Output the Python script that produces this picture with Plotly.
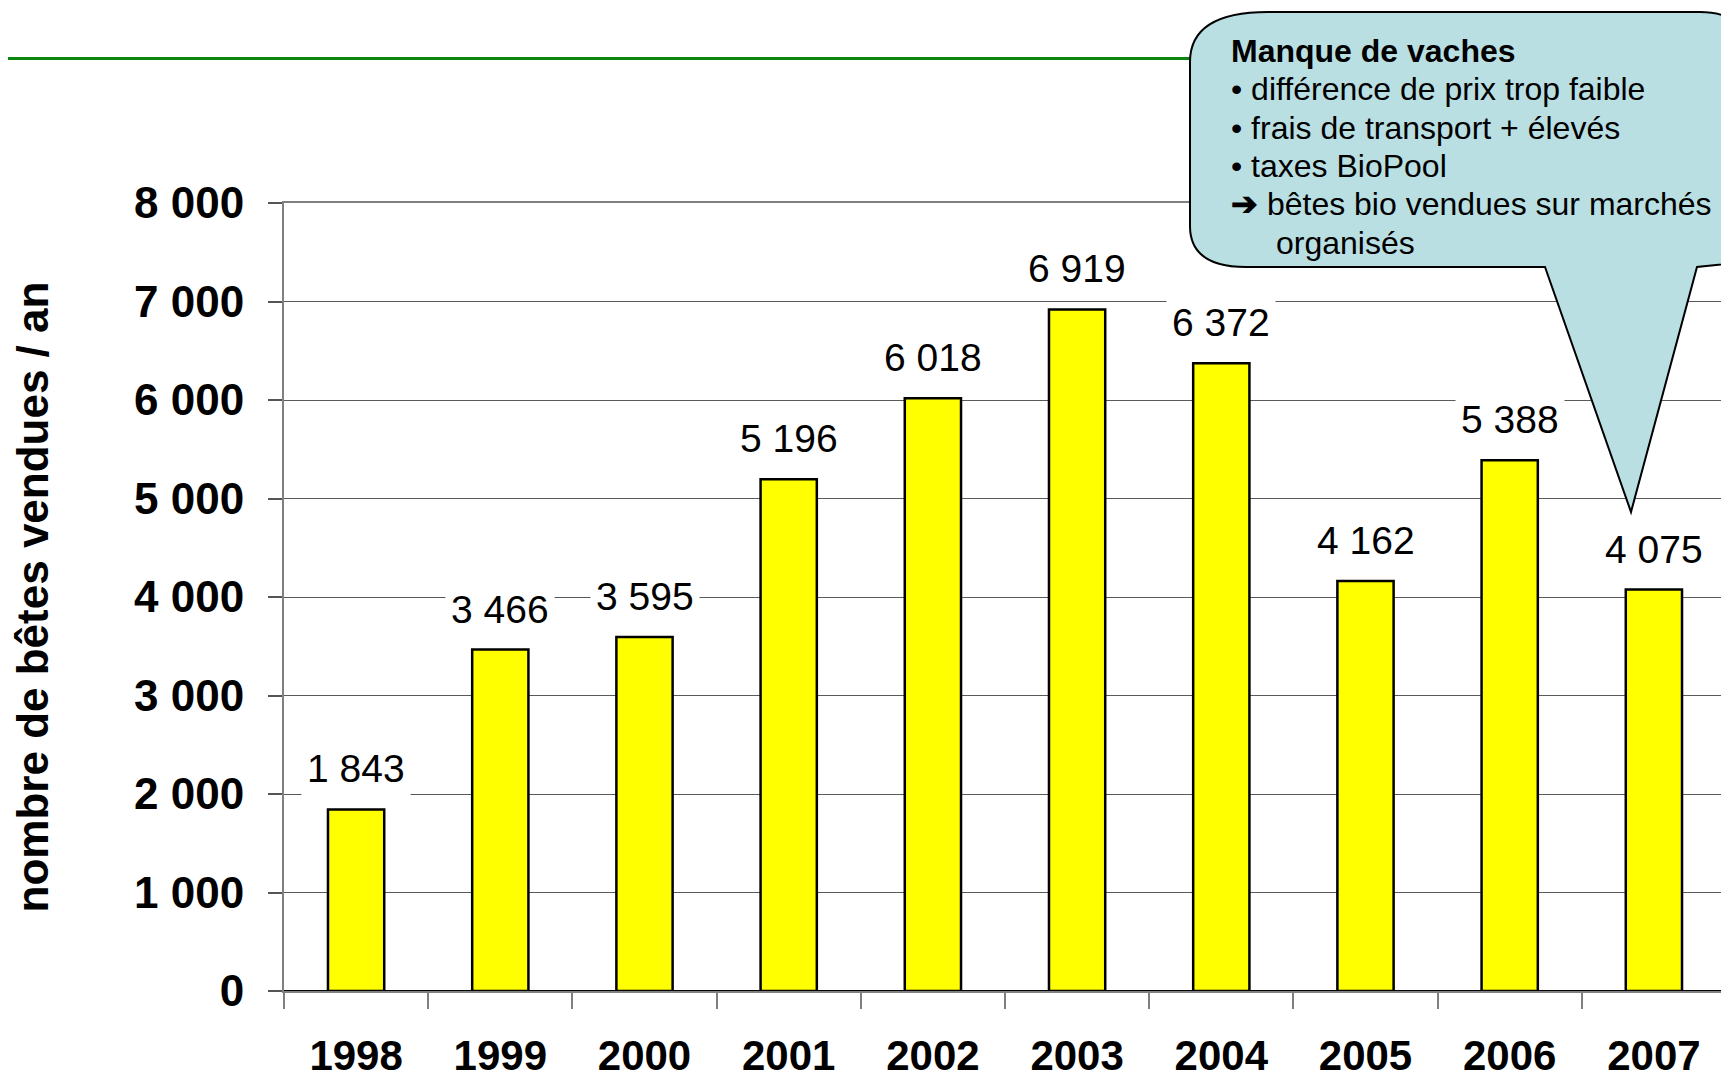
import plotly.graph_objects as go

years = ["1998", "1999", "2000", "2001", "2002", "2003", "2004", "2005", "2006", "2007"]
sold = [1843, 3466, 3595, 5196, 6018, 6919, 6372, 4162, 5388, 4075]
y_ticks = [0, 1000, 2000, 3000, 4000, 5000, 6000, 7000, 8000]
callout_title = "Manque de vaches"
callout_lines = [
    "• différence de prix trop faible",
    "• frais de transport + élevés",
    "• taxes BioPool",
    "<b>➔</b> bêtes bio vendues sur marchés",
    "organisés",
]
y_title = "nombre de bêtes vendues / an"

FONT = "Liberation Sans, Arial, sans-serif"
OFF = 8  # default page body margin
W, H = 1729 - OFF, 1080 - OFF
# plot area in page pixels
PL, PR, PT, PB = 284, 1726, 203, 991
L, R, T, B = PL - OFF, W - (PR - OFF), PT - OFF, H - (PB - OFF)
PW, PH = PR - PL, PB - PT


def px(x):
    return (x - PL) / PW


def py(y):
    return (PB - y) / PH


fig = go.Figure()
fig.add_trace(go.Bar(
    x=years, y=sold,
    marker=dict(color="#FFFF00", line=dict(color="#000000", width=2.5)),
    hoverinfo="x+y",
))

# data labels with white background (hide gridlines behind them)
for i, v in enumerate(sold):
    fig.add_annotation(
        x=i, y=v, xref="x", yref="y",
        text=f"{v:,}".replace(",", " "),
        showarrow=False, yanchor="bottom", xanchor="center", yshift=13,
        bgcolor="white", borderpad=5,
        font=dict(family=FONT, size=39, color="#000000"),
    )

# green header line
fig.add_shape(type="line", xref="paper", yref="paper",
              x0=px(OFF), x1=px(1729), y0=py(58.5), y1=py(58.5),
              line=dict(color="#0B850B", width=3), layer="above")

# callout bubble
pts = [
    ("M", [(1268, 12)]),
    ("L", [(1700, 12)]),
    ("Q", [(1745, 12), (1745, 50)]),
    ("L", [(1745, 262)]),
    ("L", [(1697, 267)]),
    ("L", [(1631, 512)]),
    ("L", [(1545, 267)]),
    ("L", [(1246, 267)]),
    ("Q", [(1190, 267), (1190, 226)]),
    ("L", [(1190, 62)]),
    ("Q", [(1190, 12), (1268, 12)]),
]
path = ""
for cmd, ps in pts:
    path += cmd + " " + " ".join(f"{px(a):.5f},{py(b):.5f}" for a, b in ps) + " "
path += "Z"
fig.add_shape(type="path", xref="paper", yref="paper", path=path,
              fillcolor="#B9DFE3", line=dict(color="#000000", width=2), layer="above")

# callout text
fig.add_annotation(xref="paper", yref="paper", x=px(1229), y=py(50.7),
                   text="<b>" + callout_title + "</b>", showarrow=False,
                   xanchor="left", yanchor="middle",
                   font=dict(family=FONT, size=32, color="#000000"))
line_y = [89.3, 127.9, 166.5, 204.0, 242.6]
line_x = [1229, 1229, 1229, 1229, 1274]
for t, yy, xx in zip(callout_lines, line_y, line_x):
    fig.add_annotation(xref="paper", yref="paper", x=px(xx), y=py(yy),
                       text=t, showarrow=False, xanchor="left", yanchor="middle",
                       font=dict(family=FONT, size=32, color="#000000"))

fig.update_layout(
    width=W, height=H,
    margin=dict(l=L, r=R, t=T, b=B, autoexpand=False),
    paper_bgcolor="white", plot_bgcolor="white",
    separators=". ",
    bargap=0.61,
    showlegend=False,
    font=dict(family=FONT, color="#000000"),
)
fig.update_xaxes(
    type="category", categoryorder="array", categoryarray=years,
    range=[-0.5, len(years) - 0.5], autorange=False, automargin=False,
    showline=True, linecolor="#808080", linewidth=2, mirror=True,
    ticks="outside", tickson="boundaries", ticklen=16, tickcolor="#808080", tickwidth=1.5,
    tickfont=dict(family=FONT, size=42, color="#000000", weight="bold"),
    tickangle=0,
    ticklabelstandoff=27,
    showgrid=False,
)
fig.update_yaxes(
    range=[0, 8000], autorange=False, automargin=False, tickvals=y_ticks, tickformat=",d",
    showline=True, linecolor="#808080", linewidth=2, mirror=True,
    ticks="outside", ticklen=14, tickcolor="#555555", tickwidth=1.5,
    tickfont=dict(family=FONT, size=44, color="#000000", weight="bold"),
    ticklabelstandoff=15,
    showgrid=True, gridcolor="#5a5a5a", gridwidth=1,
    zeroline=True, zerolinecolor="#000000", zerolinewidth=2,
    title=dict(text="<b>" + y_title + "</b>", standoff=85,
               font=dict(family=FONT, size=44, color="#000000")),
)

fig.write_html("out.html")
